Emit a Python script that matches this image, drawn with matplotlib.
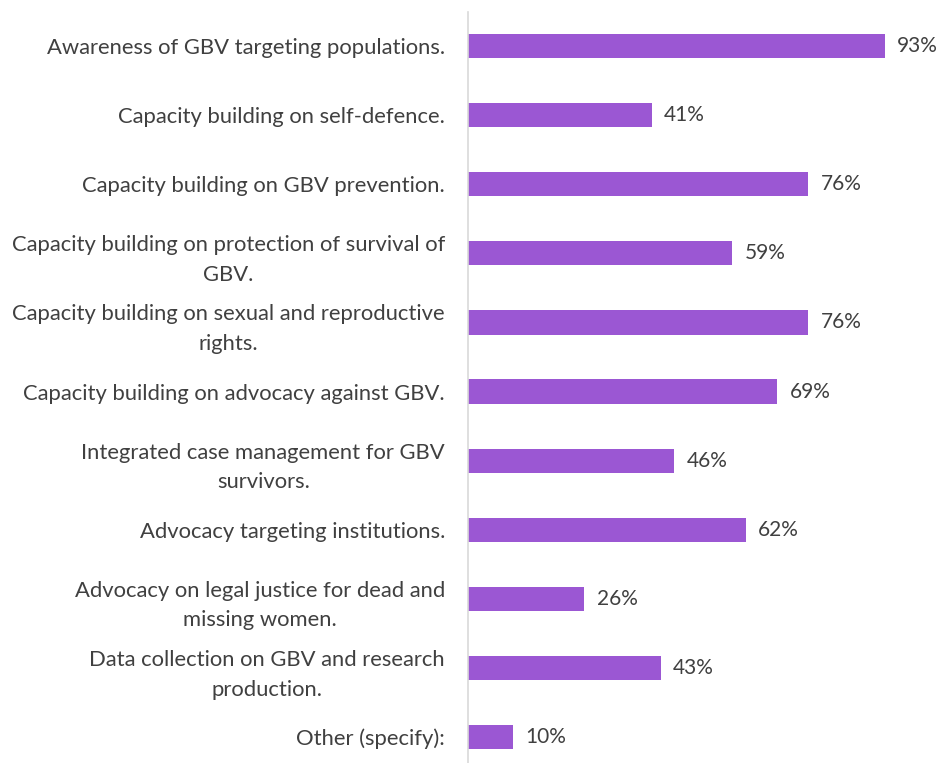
import matplotlib.pyplot as plt

plt.rcParams['font.family'] = ['Lato', 'DejaVu Sans']

# Activity categories and share of respondents
categories = [
    "Awareness of GBV targeting populations.",
    "Capacity building on self-defence.",
    "Capacity building on GBV prevention.",
    "Capacity building on protection of survival of\nGBV.",
    "Capacity building on sexual and reproductive\nrights.",
    "Capacity building on advocacy against GBV.",
    "Integrated case management for GBV\nsurvivors.",
    "Advocacy targeting institutions.",
    "Advocacy on legal justice for dead and\nmissing women.",
    "Data collection on GBV and research\nproduction.",
    "Other (specify):",
]
shares = [93, 41, 76, 59, 76, 69, 46, 62, 26, 43, 10]

fig = plt.figure(figsize=(9.40, 7.63), dpi=100)
ax = fig.add_axes([468 / 940, 0, 448 / 940, 751.5 / 763])

pos = list(range(len(categories)))
ax.barh(pos, shares, height=0.35, color="#9B57D3")

for y, v in zip(pos, shares):
    ax.text(v + 2.8, y, f"{v}%", va="center", ha="left", fontsize=15, color="#404040")

ax.set_xlim(0, 100)
ax.set_ylim(10.376, -0.5)
ax.set_yticks(pos)
ax.set_yticklabels(categories, fontsize=15.8, color="#404040")
for t in ax.get_yticklabels():
    t.set_multialignment("center")
    t.set_linespacing(1.6)
ax.tick_params(axis="y", length=0, pad=16.5)
ax.set_xticks([])

for side in ["top", "right", "bottom"]:
    ax.spines[side].set_visible(False)
ax.spines["left"].set_color("#d9d9d9")
ax.spines["left"].set_linewidth(1.2)

plt.savefig("out.png", dpi=100)
